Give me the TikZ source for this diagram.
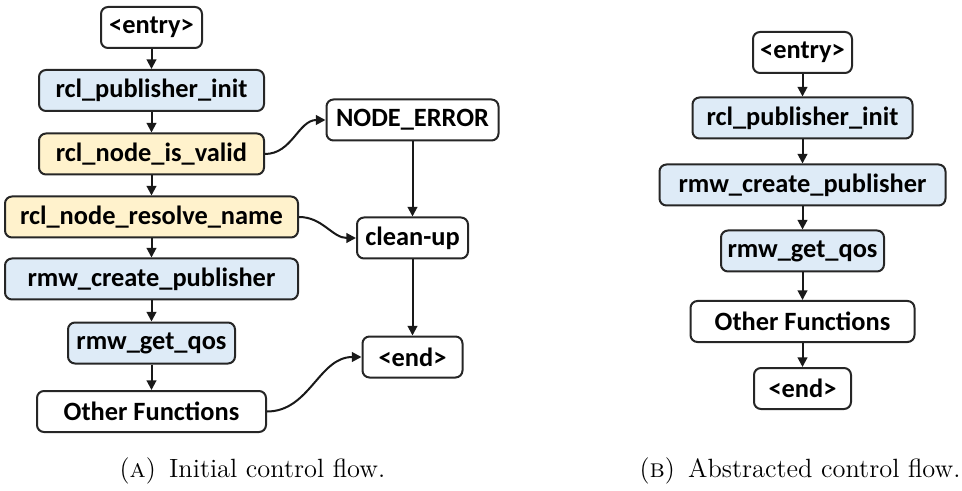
\documentclass[tikz,border=0pt]{standalone}
\usepackage{fontspec}
\newfontfamily\boxfont{Carlito}
\usetikzlibrary{arrows.meta}
\definecolor{fnblue}{HTML}{DEEBF7}
\definecolor{fnyellow}{HTML}{FFF2CC}
\tikzset{
  fnbox/.style={draw=black!85, line width=1pt, rounded corners=3.5pt, fill=white,
    inner sep=0pt, minimum height=20.5pt,
    font=\boxfont\bfseries\fontsize{13.2}{15}\selectfont},
  blue/.style={fnbox, fill=fnblue},
  yellow/.style={fnbox, fill=fnyellow},
  flow/.style={line width=1pt, draw=black!90, -{Triangle[length=4.8pt,width=4.8pt]}},
  capt/.style={font=\fontsize{13.2}{16}\selectfont}
}
\begin{document}
\begin{tikzpicture}[x=0.5pt,y=-0.5pt]
\useasboundingbox (0,0) rectangle (962,491);

% (a) initial control flow
\node[fnbox,  minimum width=50.5pt]  (a-entry)   at (151.5,27.5) {<entry>};
\node[blue,   minimum width=112.5pt] (a-init)    at (151.5,90.5) {rcl\_publisher\_init};
\node[yellow, minimum width=112.5pt] (a-valid)   at (151.5,154)  {rcl\_node\_is\_valid};
\node[yellow, minimum width=146.5pt] (a-resolve) at (151.5,217)  {rcl\_node\_resolve\_name};
\node[blue,   minimum width=146.5pt] (a-create)  at (151.5,279)  {rmw\_create\_publisher};
\node[blue,   minimum width=83.5pt]  (a-qos)     at (151.5,343)  {rmw\_get\_qos};
\node[fnbox,  minimum width=114.5pt] (a-other)   at (151.5,411.5){Other Functions};
\node[fnbox,  minimum width=86pt]    (a-err)     at (412.5,120)  {NODE\_ERROR};
\node[fnbox,  minimum width=55.5pt]  (a-clean)   at (412.5,238)  {clean-up};
\node[fnbox,  minimum width=50pt]    (a-end)     at (412.5,357)  {<end>};

\draw[flow] (a-entry) -- (a-init);
\draw[flow] (a-init) -- (a-valid);
\draw[flow] (a-valid) -- (a-resolve);
\draw[flow] (a-resolve) -- (a-create);
\draw[flow] (a-create) -- (a-qos);
\draw[flow] (a-qos) -- (a-other);
\draw[flow] (a-err) -- (a-clean);
\draw[flow] (a-clean) -- (a-end);
\draw[flow] (a-valid.east) to[out=0,in=180] (a-err.west);
\draw[flow] (a-resolve.east) to[out=0,in=180] (a-clean.west);
\draw[flow] (a-other.east) to[out=0,in=180] (a-end.west);

\node[capt] (capa) at (252.5,471) {(\textsc{a})\hspace{0.5em}Initial control flow.};

% (b) abstracted control flow
\node[fnbox, minimum width=49.5pt]  (b-entry)  at (802.5,52.5) {<entry>};
\node[blue,  minimum width=110pt]   (b-init)   at (802.5,118)  {rcl\_publisher\_init};
\node[blue,  minimum width=143pt]   (b-create) at (802.5,185)  {rmw\_create\_publisher};
\node[blue,  minimum width=81.5pt]  (b-qos)    at (802.5,251)  {rmw\_get\_qos};
\node[fnbox, minimum width=112pt]   (b-other)  at (802.5,321.5){Other Functions};
\node[fnbox, minimum width=48.5pt]  (b-end)    at (802.5,388.5){<end>};

\draw[flow] (b-entry) -- (b-init);
\draw[flow] (b-init) -- (b-create);
\draw[flow] (b-create) -- (b-qos);
\draw[flow] (b-qos) -- (b-other);
\draw[flow] (b-other) -- (b-end);

\node[capt] (capb) at (800,471) {(\textsc{b})\hspace{0.5em}Abstracted control flow.};
\end{tikzpicture}
\end{document}
